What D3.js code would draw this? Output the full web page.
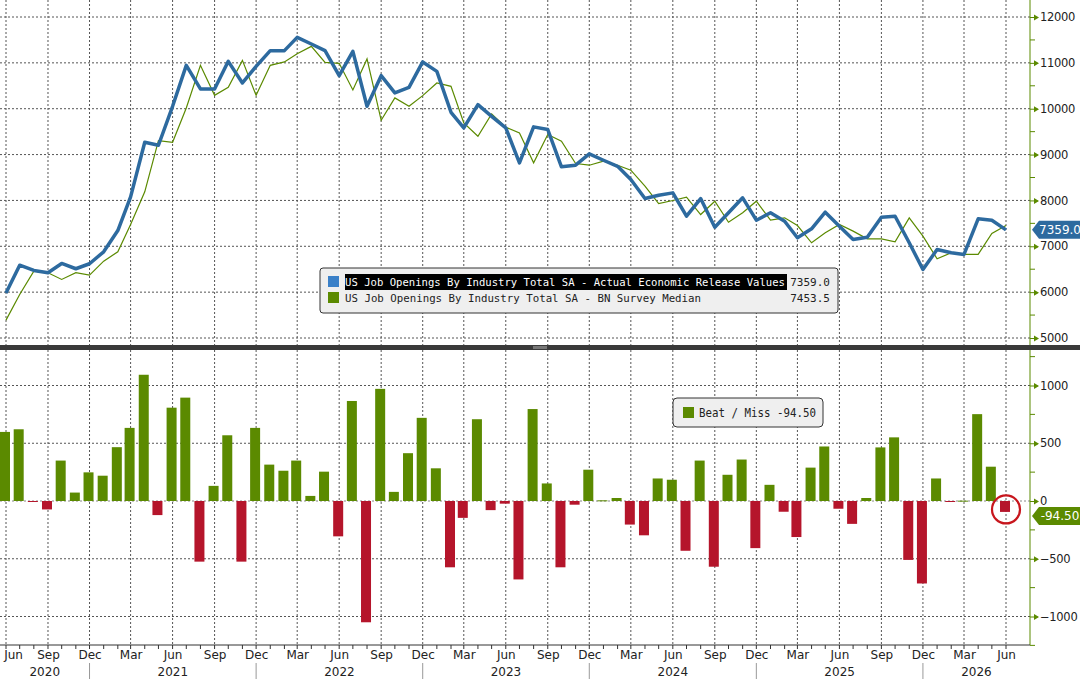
<!doctype html>
<html>
<head>
<meta charset="utf-8">
<script src="https://d3js.org/d3.v7.min.js"></script>
<style>
body { margin:0; background:#fff; }
text { font-family: "DejaVu Sans Mono", monospace; }
.tick text { font-family: "DejaVu Sans", sans-serif; font-size:12px; fill:#222; }
.yax .tick text { font-size:11.5px; letter-spacing:-0.3px; }
</style>
</head>
<body>
<script>
// monthly, Jun 2020 .. Jun 2026
var startMonth = "2020-06";
var actual = [5980,6588,6473,6423,6625,6510,6619,6880,7344,8078,9268,9203,10053,10946,10431,10431,11033,10562,10924,11266,11266,11556,11412,11266,10721,11251,10053,10721,10344,10466,11020,10815,9922,9582,10089,9834,9582,8819,9604,9545,8732,8768,9015,8876,8745,8455,8041,8113,8165,7656,8041,7416,7730,8057,7569,7730,7547,7185,7381,7743,7438,7148,7198,7634,7656,7076,6494,6930,6858,6822,7599,7569,7359];
var survey = [5390,5950,6457,6423,6277,6423,6371,6676,6880,7475,8187,9305,9268,10017,10946,10292,10466,11054,10292,10946,11020,11200,11360,11011,10990,10410,11085,9748,10235,10053,10286,10562,10488,9691,9400,9887,9596,9473,8819,9436,9290,8804,8768,8855,8768,8659,8310,7933,7998,8070,7693,7983,7525,7730,7983,7569,7620,7453,7076,7294,7475,7330,7163,7163,7098,7620,7221,6728,6858,6822,6822,7279,7453.5];
var beatMiss = [598,621,-5,-73,350,73,248,219,466,633,1093,-122,808,895,-525,131,569,-525,633,315,262,350,44,254,-306,866,-1050,971,79,414,720,283,-574,-146,708,-79,-23,-679,796,152,-574,-32,271,6,26,-204,-297,195,184,-431,350,-569,227,359,-408,140,-93,-312,289,472,-67,-198,26,464,551,-510,-714,195,-6,3,752,297,-94.5];
var topTicks = [5000,6000,7000,8000,9000,10000,11000,12000];
var botTicks = [-1000,-500,0,500,1000];
var legendNames = ["US Job Openings By Industry Total SA - Actual Economic Release Values","US Job Openings By Industry Total SA - BN Survey Median"];
var legendValues = ["7359.0","7453.5"];

var W = 1080, H = 679, plotR = 1030;
var blue = "#2d6a9f", olive = "#5b8a00", red = "#b5152b";
var parse = d3.timeParse("%Y-%m");
var t0 = parse(startMonth);
var dates = actual.map(function(d,i){ return d3.timeMonth.offset(t0, i); });

var svg = d3.select("body").append("svg").attr("width",W).attr("height",H);

var x = d3.scaleTime().domain([dates[0], dates[dates.length-1]]).range([6,1006]);
var yTop = d3.scaleLinear().domain([5000,12000]).range([338,17]);
var yBot = d3.scaleLinear().domain([-1000,1000]).range([616.5,385.5]);

var quarters = dates.filter(function(d){ return d.getMonth() % 3 == 2; });

// grids
function vgrid(y0,y1){
  svg.append("g").selectAll("line").data(quarters).enter().append("line")
    .attr("x1",function(d){return x(d);}).attr("x2",function(d){return x(d);})
    .attr("y1",y0).attr("y2",y1)
    .attr("stroke","#555").attr("stroke-dasharray","2,2").attr("stroke-width",1);
}
vgrid(0,345); vgrid(350,645);
svg.append("g").selectAll("line").data(topTicks).enter().append("line")
  .attr("x1",0).attr("x2",plotR).attr("y1",function(d){return yTop(d);}).attr("y2",function(d){return yTop(d);})
  .attr("stroke","#555").attr("stroke-dasharray","2,2");
svg.append("g").selectAll("line").data(botTicks).enter().append("line")
  .attr("x1",0).attr("x2",plotR).attr("y1",function(d){return yBot(d);}).attr("y2",function(d){return yBot(d);})
  .attr("stroke",function(d){return d==0?"#888":"#555";}).attr("stroke-dasharray","2,2");

// lines
var line = d3.line().x(function(d,i){return x(dates[i]);}).y(function(d){return yTop(d);});
svg.append("path").datum(survey).attr("d",line).attr("fill","none").attr("stroke",olive).attr("stroke-width",1.2);
svg.append("path").datum(actual).attr("d",line).attr("fill","none").attr("stroke",blue).attr("stroke-width",3.5).attr("stroke-linejoin","round");

// bars
svg.append("g").selectAll("rect").data(beatMiss).enter().append("rect")
  .attr("x",function(d,i){return x(dates[i])-6;}).attr("width",10)
  .attr("y",function(d){return yBot(Math.max(0,d));})
  .attr("height",function(d){return Math.max(1,Math.abs(yBot(d)-yBot(0)));})
  .attr("fill",function(d){return d>=0?olive:red;});

// panel separator
svg.append("rect").attr("x",0).attr("y",345).attr("width",W).attr("height",5).attr("fill","#3a3a3a");
svg.append("rect").attr("x",533).attr("y",346).attr("width",14).attr("height",3).attr("fill","#777");

// right axes
var axT = d3.axisRight(yTop).tickValues(topTicks).tickSize(8).tickPadding(2).tickFormat(d3.format("d"));
var gT = svg.append("g").attr("class","yax").attr("transform","translate("+plotR+",0)").call(axT);
var axB = d3.axisRight(yBot).tickValues(botTicks).tickSize(8).tickPadding(2).tickFormat(d3.format("d"));
var gB = svg.append("g").attr("class","yax").attr("transform","translate("+plotR+",0)").call(axB);
[gT,gB].forEach(function(g){
  g.select(".domain").remove();
  g.selectAll(".tick line").attr("stroke",olive);
  g.selectAll(".tick").append("path").attr("d","M4,-3L9,0L4,3Z").attr("fill",olive);
});
svg.append("line").attr("x1",plotR).attr("x2",plotR).attr("y1",0).attr("y2",345).attr("stroke",olive);
svg.append("line").attr("x1",plotR).attr("x2",plotR).attr("y1",350).attr("y2",645).attr("stroke",olive);
var minorT = d3.range(5500,12000,1000);
svg.append("g").selectAll("line").data(minorT).enter().append("line")
  .attr("x1",plotR).attr("x2",plotR+5).attr("y1",function(d){return yTop(d);}).attr("y2",function(d){return yTop(d);}).attr("stroke",olive);
var minorB = [-1250,-750,-250,250,750,1250];
svg.append("g").selectAll("line").data(minorB).enter().append("line")
  .attr("x1",plotR).attr("x2",plotR+5).attr("y1",function(d){return yBot(d);}).attr("y2",function(d){return yBot(d);}).attr("stroke",olive);

// bottom time axis
svg.append("line").attr("x1",0).attr("x2",plotR).attr("y1",645).attr("y2",645).attr("stroke","#333");
var axX = d3.axisBottom(x).tickValues(quarters).tickSize(0).tickPadding(5).tickFormat(d3.timeFormat("%b"));
var gX = svg.append("g").attr("transform","translate(0,645)").call(axX);
gX.select(".domain").remove();
gX.selectAll(".tick text").filter(function(d,i){return i==0;}).attr("dx",7);
svg.append("g").selectAll("line").data(dates).enter().append("line")
  .attr("x1",function(d){return x(d);}).attr("x2",function(d){return x(d);})
  .attr("y1",645).attr("y2",649).attr("stroke","#333");
var years = [2020,2021,2022,2023,2024,2025,2026];
var seps = years.slice(0,-1).map(function(y){return x(new Date(y,11,1));});
svg.append("g").selectAll("line").data(seps).enter().append("line")
  .attr("x1",function(d){return d;}).attr("x2",function(d){return d;})
  .attr("y1",663).attr("y2",679).attr("stroke","#999");
svg.append("g").selectAll("text").data(years).enter().append("text")
  .attr("x",function(d,i){
    var a = i==0?0:seps[i-1], b = i<seps.length?seps[i]:plotR;
    return (a+b)/2;
  })
  .attr("y",676).attr("text-anchor","middle").style("font-family","DejaVu Sans, sans-serif")
  .style("font-size","12px").attr("fill","#222").text(function(d){return d;});

// value tags
function tag(yv,txt,col){
  var g = svg.append("g").attr("transform","translate(1032,"+yv+")");
  g.append("path").attr("d","M0,0L7,-9L48,-9L48,9L7,9Z").attr("fill",col);
  g.append("text").attr("x",28).attr("y",4.5).attr("text-anchor","middle")
    .style("font-family","DejaVu Sans, sans-serif").style("font-size","12px").attr("fill","#fff").text(txt);
}
tag(yTop(actual[actual.length-1]),"7359.0",blue);
tag(yBot(beatMiss[beatMiss.length-1])+4,"-94.50",olive);

// red circle on last bar
svg.append("circle").attr("cx",x(dates[dates.length-1])).attr("cy",yBot(beatMiss[beatMiss.length-1]/2)+3)
  .attr("r",14).attr("fill","none").attr("stroke","#c8161d").attr("stroke-width",2.2);

// main legend
var lg = svg.append("g").attr("transform","translate(320,268)");
lg.append("rect").attr("width",518).attr("height",45).attr("rx",3).attr("fill","#efefef").attr("stroke","#333");
lg.append("rect").attr("x",25).attr("y",6).attr("width",442).attr("height",16).attr("fill","#000");
[blue,olive].forEach(function(c,i){
  lg.append("rect").attr("x",8).attr("y",8+i*16).attr("width",11).attr("height",11).attr("fill",c==blue?"#3a80c8":c);
  lg.append("text").attr("x",25).attr("y",18+i*16).style("font-size","11px").attr("fill",i==0?"#fff":"#222")
    .attr("textLength",i==0?440:356).attr("lengthAdjust","spacingAndGlyphs").text(legendNames[i]);
  lg.append("text").attr("x",510).attr("y",18+i*16).attr("text-anchor","end").style("font-size","11px").attr("fill","#222").text(legendValues[i]);
});

// beat / miss legend
var lb = svg.append("g").attr("transform","translate(673,398)");
lb.append("rect").attr("width",150).attr("height",29).attr("rx",4).attr("fill","#efefef").attr("stroke","#333");
lb.append("rect").attr("x",10).attr("y",9).attr("width",11).attr("height",11).attr("fill",olive);
lb.append("text").attr("x",26).attr("y",19).style("font-size","12px").attr("fill","#222")
  .attr("textLength",117).attr("lengthAdjust","spacingAndGlyphs").text("Beat / Miss -94.50");
</script>
</body>
</html>
